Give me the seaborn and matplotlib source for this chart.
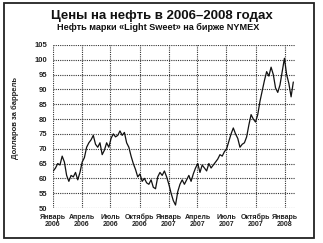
import matplotlib
matplotlib.use("Agg")
import matplotlib.pyplot as plt
import matplotlib.dates as mdates
from matplotlib.patches import Rectangle
import seaborn as sns
import pandas as pd

# ---- data (weekly WTI "Light Sweet" prices) ----
start_date = "2006-01-02"
price = [
    62.5, 63.5, 65, 64.5, 67.5, 65.5, 61, 59, 61, 60.5, 62, 59.5, 62,
    65.5, 67, 70.5, 72, 73, 74.5, 71.5, 70.5, 72, 68, 69.5, 72, 70.5,
    73.5, 75, 74, 74.5, 76, 74.5, 75.5, 72, 70.5, 67.5, 65, 63, 60.5,
    61.5, 59, 60, 58.5, 58, 59.5, 57, 56.5, 60.5,
    62, 61, 62.5, 60.5, 58, 55, 52.5, 51, 55.5, 58, 59.5, 58, 59.5, 61,
    59, 61.5, 63.5, 65, 62, 64.5, 63.5, 62.5, 65, 63.5, 64.5, 65.5, 66.5,
    68, 67.5, 69, 70, 72.5, 75, 77, 75, 73.5, 70.5, 71.5, 72, 74, 78,
    81.5, 80, 79, 81.5, 86, 89.5, 93, 96, 94.5, 97.5, 95, 90.5, 89, 91.5,
    96, 100.5, 95, 92, 87.5, 92.5,
]
tick_dates = ["2006-01-01", "2006-04-01", "2006-07-01", "2006-10-01",
              "2007-01-01", "2007-04-01", "2007-07-01", "2007-10-01",
              "2008-01-01"]
tick_labels = ["Январь\n2006", "Апрель\n2006", "Июль\n2006", "Октябрь\n2006",
               "Январь\n2007", "Апрель\n2007", "Июль\n2007", "Октябрь\n2007",
               "Январь\n2008"]
y_ticks = [50, 55, 60, 65, 70, 75, 80, 85, 90, 95, 100, 105]
title = "Цены на нефть в 2006–2008 годах"
subtitle = "Нефть марки «Light Sweet» на бирже NYMEX"
ylabel = "Долларов за баррель"

df = pd.DataFrame({
    "date": pd.date_range(start_date, periods=len(price), freq="7D"),
    "price": price,
})

sns.set_style("white")
plt.rcParams["font.family"] = ["Liberation Sans Narrow", "Liberation Sans", "DejaVu Sans"]

fig = plt.figure(figsize=(3.23, 2.43), dpi=100)
ax = fig.add_axes([0.164, 0.144, 0.749, 0.671])

sns.lineplot(data=df, x="date", y="price", ax=ax, color="#111111", linewidth=0.9)

ax.set_xlim(pd.Timestamp("2006-01-01"), pd.Timestamp("2008-02-02"))
ax.set_ylim(50, 105)
ax.set_yticks(y_ticks)
ax.set_yticklabels([str(v) for v in y_ticks], fontsize=5.5, fontweight="bold", color="#222222")
ax.set_xticks(pd.to_datetime(tick_dates))
ax.set_xticklabels(tick_labels, fontsize=5.0, fontweight="bold", color="#222222", linespacing=1.0)
ax.tick_params(axis="both", length=2, width=0.6, pad=2, color="#333333")
ax.set_xlabel("")
ax.set_ylabel(ylabel, fontsize=5.5, fontweight="bold", color="#222222", labelpad=8)
ax.yaxis.set_label_coords(-0.14, 0.55)

ax.grid(True, which="major", axis="both", linestyle=(0, (1, 1)), linewidth=0.8, color="#333333")
for s in ax.spines.values():
    s.set_visible(False)

fig.text(0.5, 0.935, title, ha="center", va="center", fontsize=9.5, fontweight="bold", color="#111111")
fig.text(0.49, 0.885, subtitle, ha="center", va="center", fontsize=6.6, fontweight="bold", color="#111111")

fig.patches.append(Rectangle((0.012, 0.02), 0.961, 0.967, transform=fig.transFigure,
                             fill=False, edgecolor="#222222", linewidth=1.3))

fig.savefig("out.png", dpi=100, facecolor="white")
